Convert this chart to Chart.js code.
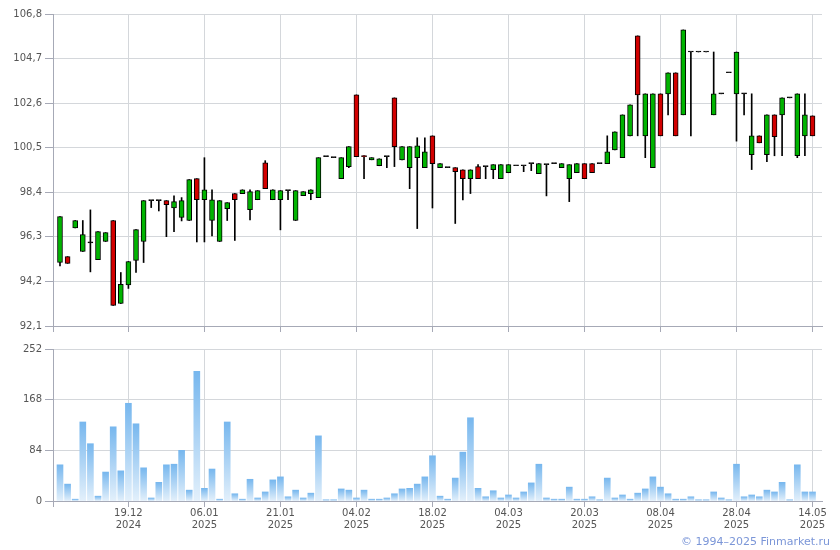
<!DOCTYPE html>
<html>
<head>
<meta charset="utf-8">
<script src="https://cdn.jsdelivr.net/npm/chart.js@4.4.1/dist/chart.umd.min.js"></script>
<style>
  body { margin: 0; background: #fff; }
  #wrap { position: relative; width: 840px; height: 550px; }
  #price { position: absolute; left: 0; top: 0; }
  #volume { position: absolute; left: 0; top: 335px; }
  #copy { position: absolute; right: 10px; top: 535px; font: 11px "DejaVu Sans", sans-serif; color: #7b96d8; }
</style>
</head>
<body>
<div id="wrap">
  <canvas id="price" width="840" height="340"></canvas>
  <canvas id="volume" width="840" height="205"></canvas>
  <div id="copy">© 1994–2025 Finmarket.ru</div>
</div>
<script>
// OHLC per trading day (index 0..99)
const opens = [95.09, 95.37, 96.72, 95.61, 96.02, 95.23, 96.08, 97.07, 93.16, 94.04,
  95.19, 96.08, 98.01, 98.01, 98.01, 97.66, 97.21, 97.07, 99.04, 98.05,
  97.07, 96.08, 97.63, 98.34, 98.34, 97.58, 98.05, 99.79, 98.05, 98.05,
  98.48, 97.07, 98.24, 98.34, 98.15, 100.08, 100.03, 99.04, 99.61, 102.99,
  100.13, 99.93, 99.65, 100.08, 102.85, 99.93, 99.56, 100.03, 99.56, 101.06,
  99.56, 99.56, 99.56, 99.46, 99.04, 99.61, 99.61, 99.46, 99.04, 99.32,
  99.65, 99.65, 99.75, 99.28, 99.70, 99.75, 99.56, 99.04, 99.32, 99.75,
  99.75, 99.75, 99.75, 100.40, 100.03, 101.06, 105.77, 101.06, 99.56, 103.04,
  103.04, 104.03, 102.05, 105.01, 105.01, 105.01, 102.05, 103.04, 104.03, 103.04,
  103.04, 100.17, 101.06, 100.17, 102.05, 102.05, 102.85, 100.12, 101.06, 102.00];
const closes = [97.25, 95.05, 97.07, 96.41, 96.02, 96.55, 96.50, 93.07, 94.06, 95.14,
  96.64, 98.01, 98.01, 98.01, 97.82, 97.96, 98.01, 99.00, 98.05, 98.52,
  98.05, 98.01, 97.91, 98.05, 98.52, 98.43, 98.48, 98.57, 98.52, 98.48,
  98.48, 98.48, 98.43, 98.52, 100.03, 100.08, 100.03, 100.03, 100.55, 100.08,
  100.08, 100.03, 99.98, 100.08, 100.55, 100.55, 100.55, 100.59, 100.31, 99.75,
  99.75, 99.56, 99.37, 99.04, 99.46, 99.04, 99.61, 99.70, 99.70, 99.70,
  99.65, 99.65, 99.75, 99.75, 99.70, 99.75, 99.75, 99.70, 99.75, 99.04,
  99.32, 99.75, 100.31, 101.25, 102.05, 102.52, 102.99, 103.04, 103.04, 101.06,
  104.03, 101.06, 106.05, 105.01, 105.01, 105.01, 103.04, 103.04, 104.03, 105.01,
  103.04, 101.06, 100.73, 102.05, 101.02, 102.85, 102.85, 103.04, 102.05, 101.06];
const highs = [97.25, 95.37, 97.07, 97.07, 97.57, 96.55, 96.50, 97.07, 94.62, 95.14,
  96.64, 98.01, 98.01, 98.01, 98.01, 98.23, 98.15, 99.00, 99.04, 100.03,
  98.52, 98.01, 97.91, 98.34, 98.52, 98.52, 98.48, 99.89, 98.52, 98.48,
  98.48, 98.48, 98.43, 98.52, 100.03, 100.08, 100.03, 100.03, 100.55, 102.99,
  100.13, 100.03, 99.98, 100.08, 102.85, 100.55, 100.55, 100.97, 100.97, 101.06,
  99.75, 99.56, 99.56, 99.46, 99.46, 99.70, 99.61, 99.70, 99.70, 99.70,
  99.65, 99.65, 99.75, 99.75, 99.70, 99.75, 99.75, 99.70, 99.75, 99.75,
  99.75, 99.75, 101.06, 101.25, 102.05, 102.52, 105.77, 103.04, 103.04, 103.04,
  104.03, 104.03, 106.05, 105.01, 105.01, 105.01, 105.01, 103.04, 104.03, 105.01,
  103.04, 103.04, 101.06, 102.05, 102.05, 102.85, 102.85, 103.04, 103.04, 102.00];
const lows = [94.93, 95.05, 96.72, 95.61, 94.65, 95.23, 96.08, 93.07, 93.16, 93.87,
  94.62, 95.09, 97.68, 97.52, 96.31, 96.55, 97.05, 97.07, 96.06, 96.06,
  96.35, 96.08, 97.07, 96.13, 98.34, 97.10, 98.05, 98.57, 98.05, 96.63,
  98.05, 97.07, 98.24, 98.05, 98.15, 100.08, 100.03, 99.04, 99.56, 100.08,
  99.04, 99.93, 99.65, 99.56, 99.61, 99.93, 98.57, 96.69, 99.56, 97.66,
  99.56, 99.56, 96.93, 98.04, 98.34, 99.04, 99.04, 99.04, 99.04, 99.32,
  99.65, 99.37, 99.42, 99.28, 98.23, 99.75, 99.56, 97.96, 99.32, 99.04,
  99.32, 99.75, 99.75, 100.40, 100.03, 101.06, 101.06, 100.03, 99.56, 101.06,
  102.05, 101.06, 102.05, 101.06, 105.01, 105.01, 102.05, 103.04, 104.03, 100.81,
  102.05, 99.47, 100.73, 99.84, 100.12, 100.12, 102.85, 100.03, 100.12, 101.06];
const volumes = [60, 28, 3, 131, 95, 8, 48, 123, 50, 162,
  128, 55, 5, 31, 60, 61, 84, 18, 215, 21,
  53, 3, 131, 12, 3, 36, 5, 15, 35, 40,
  7, 18, 5, 13, 108, 2, 2, 20, 18, 5,
  18, 3, 3, 5, 12, 20, 21, 28, 40, 75,
  8, 3, 38, 81, 138, 21, 7, 17, 5, 10,
  5, 15, 30, 61, 5, 3, 3, 23, 3, 3,
  7, 2, 38, 5, 10, 3, 13, 20, 40, 23,
  12, 3, 3, 7, 2, 2, 15, 5, 2, 61,
  7, 10, 7, 18, 15, 31, 2, 60, 15, 15];

const tickIdx = [9, 19, 29, 39, 49, 59, 69, 79, 89, 99];
const tickDay = ['19.12', '06.01', '21.01', '04.02', '18.02', '04.03', '20.03', '08.04', '28.04', '14.05'];
const tickYear = ['2024', '2025', '2025', '2025', '2025', '2025', '2025', '2025', '2025', '2025'];
const priceTicks = [92.1, 94.2, 96.3, 98.4, 100.5, 102.6, 104.7, 106.8];
const volumeTicks = [0, 84, 168, 252];

const X_MIN = -0.92, X_MAX = 100.25;
const GRID = '#d4d7db';
const AXIS = '#a6a9b6';
const FONT = { family: '"DejaVu Sans", sans-serif', size: 10, lineHeight: '12px' };
const LABEL = '#555555';

function xScale(showLabels) {
  return {
    type: 'linear',
    min: X_MIN,
    max: X_MAX,
    offset: false,
    afterBuildTicks: s => { s.ticks = [X_MIN].concat(tickIdx).map(v => ({ value: v })); },
    afterFit: s => { s.height = showLabels ? 39 : 14; },
    grid: { color: GRID, tickColor: AXIS, tickLength: 6, offset: false },
    border: { color: AXIS },
    ticks: {
      display: showLabels,
      padding: 0,
      maxRotation: 0,
      autoSkip: false,
      color: LABEL,
      font: FONT,
      callback: v => {
        const k = tickIdx.indexOf(v);
        return k < 0 ? '' : [tickDay[k], tickYear[k]];
      }
    }
  };
}

function yScale(min, max, values, fmt) {
  return {
    min: min,
    max: max,
    afterBuildTicks: s => { s.ticks = values.map(v => ({ value: v })); },
    afterFit: s => { s.width = 53; },
    grid: { color: GRID, tickColor: AXIS, tickLength: 8 },
    border: { color: AXIS },
    ticks: { padding: 3, color: LABEL, font: FONT, callback: fmt }
  };
}

const idx = opens.map((_, i) => i);
const bodyColors = idx.map(i => closes[i] > opens[i] ? '#00b400' : (closes[i] < opens[i] ? '#d20000' : '#000000'));

new Chart(document.getElementById('price'), {
  type: 'bar',
  data: {
    datasets: [
      {
        data: idx.map(i => ({ x: i, y: [opens[i], closes[i]] })),
        backgroundColor: bodyColors,
        borderColor: '#000',
        borderWidth: 1,
        borderSkipped: false,
        barThickness: 5,
        minBarLength: 1,
        grouped: false,
        order: 0
      },
      {
        data: idx.map(i => ({ x: i, y: [lows[i], highs[i]] })),
        backgroundColor: '#000',
        borderWidth: 0,
        barThickness: 1,
        grouped: false,
        order: 1
      }
    ]
  },
  options: {
    responsive: false,
    animation: false,
    layout: { padding: { top: 14, right: 18, left: 0, bottom: 0 } },
    plugins: { legend: { display: false }, tooltip: { enabled: false } },
    scales: {
      x: xScale(false),
      y: yScale(92.1, 106.8, priceTicks, v => v.toFixed(1).replace('.', ','))
    }
  }
});

new Chart(document.getElementById('volume'), {
  type: 'bar',
  data: {
    datasets: [{
      data: idx.map(i => ({ x: i, y: volumes[i] })),
      barThickness: 6,
      grouped: false,
      borderWidth: 0,
      backgroundColor: c => {
        const chart = c.chart;
        if (!chart.chartArea || c.type !== 'data') return '#a8d2f5';
        const top = chart.scales.y.getPixelForValue(c.parsed.y);
        const bottom = chart.scales.y.getPixelForValue(0);
        const g = chart.ctx.createLinearGradient(0, top, 0, bottom);
        g.addColorStop(0, '#77b7ee');
        g.addColorStop(1, '#e3f0fb');
        return g;
      }
    }]
  },
  options: {
    responsive: false,
    animation: false,
    layout: { padding: { top: 14, right: 18, left: 0, bottom: 0 } },
    plugins: { legend: { display: false }, tooltip: { enabled: false } },
    scales: {
      x: xScale(true),
      y: yScale(0, 252, volumeTicks, v => String(v))
    }
  }
});
</script>
</body>
</html>
